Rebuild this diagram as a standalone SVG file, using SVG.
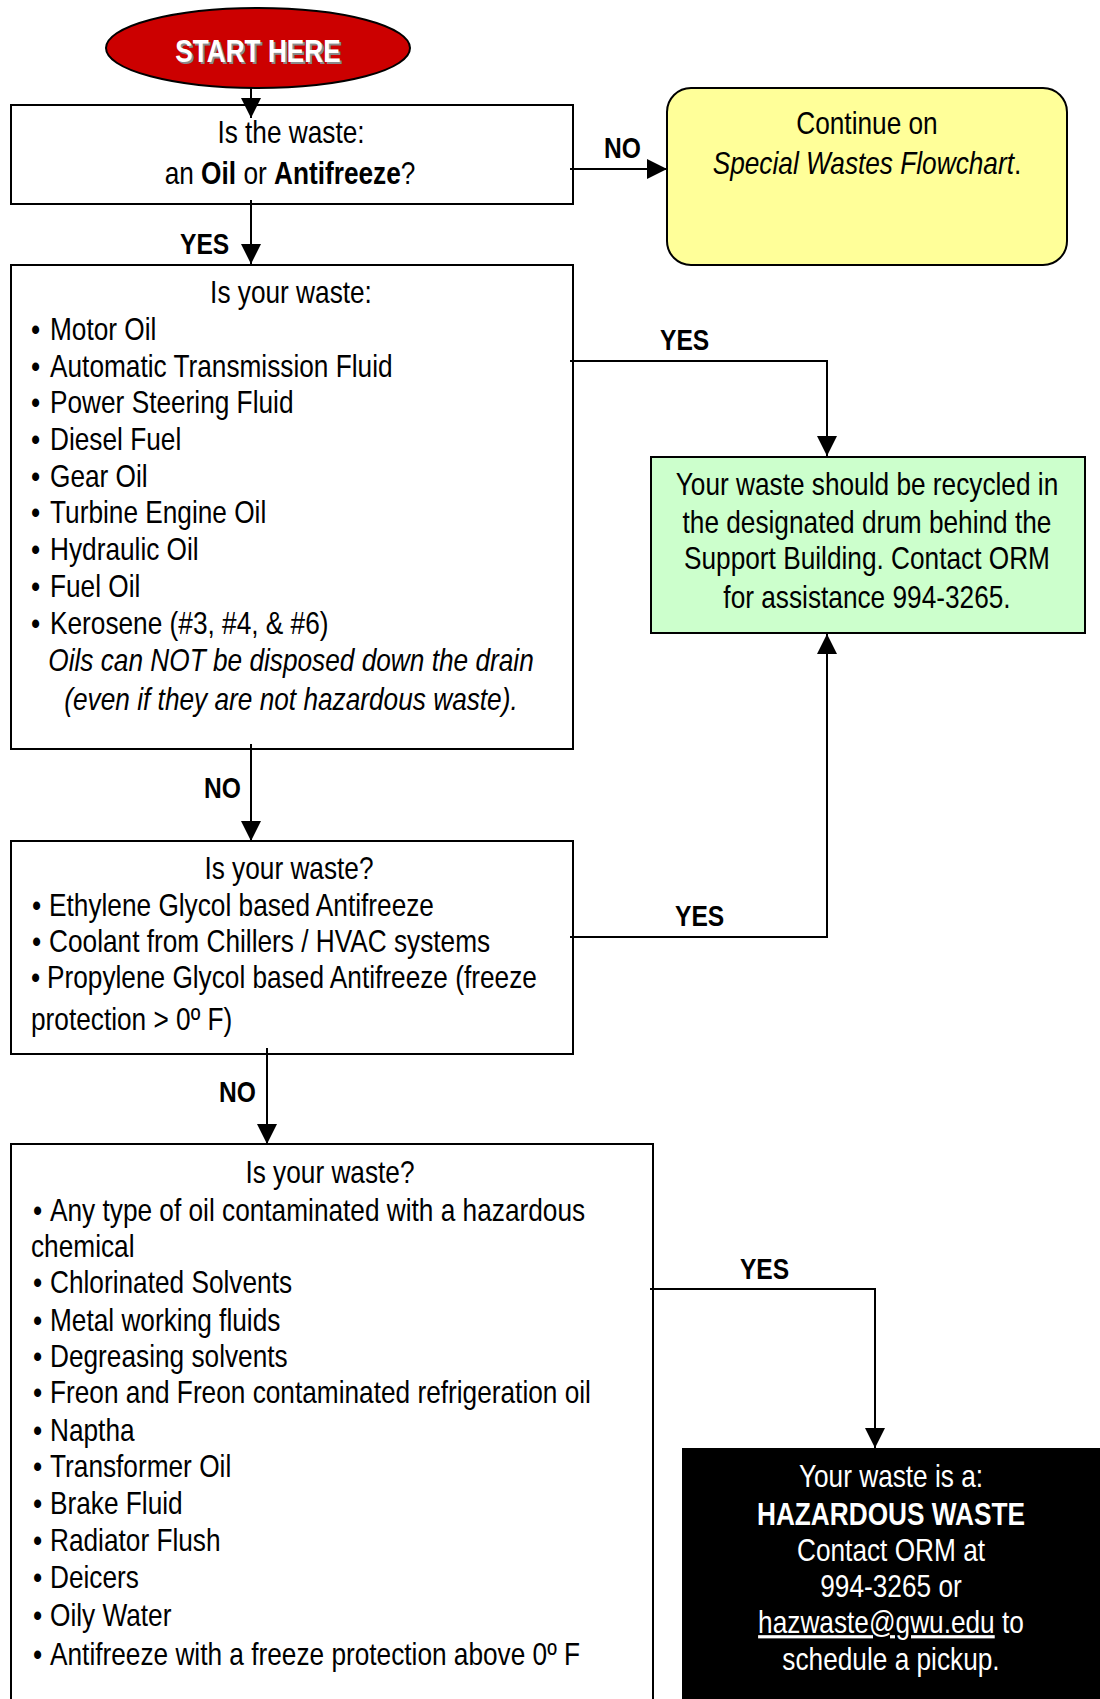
<svg xmlns="http://www.w3.org/2000/svg" width="1100" height="1699" viewBox="0 0 1100 1699">
<defs>
<style>
.t{font-family:"Liberation Sans Narrow","Liberation Sans",Arial,sans-serif;font-size:32px;fill:#000}
.c{text-anchor:middle}
.b{font-weight:bold}
.i{font-style:italic}
.lbl{font-family:"Liberation Sans Narrow","Liberation Sans",Arial,sans-serif;font-size:30px;font-weight:bold;fill:#000}
.box{fill:#fff;stroke:#000;stroke-width:2}
.ln{fill:none;stroke:#000;stroke-width:2}
.w{fill:#fff}
</style>
<marker id="ah" viewBox="0 0 20 20" refX="20" refY="10" markerWidth="20" markerHeight="20" markerUnits="userSpaceOnUse" orient="auto">
<path d="M0,0 L20,10 L0,20 Z" fill="#000"/>
</marker>
</defs>
<rect width="1100" height="1699" fill="#fff"/>

<g id="start">
<ellipse cx="258" cy="48" rx="152" ry="40" fill="#CC0000" stroke="#000" stroke-width="2"/>
<g transform="scale(0.82 1)">
<text x="317.1" y="64" class="t c b" style="fill:#8a8a8a">START HERE</text>
<text x="314.6" y="62" class="t c b w">START HERE</text>
</g>
</g>

<g id="q1">
<rect x="11" y="105" width="562" height="99" class="box"/>
<g transform="scale(0.82 1)">
<text x="354.9" y="143" class="t c">Is the waste:</text>
<text x="353.7" y="184" class="t c">an <tspan class="b">Oil</tspan> or <tspan class="b">Antifreeze</tspan>?</text>
</g>
</g>

<g id="special">
<rect x="667" y="88" width="400" height="177" rx="24" ry="24" fill="#FFFF99" stroke="#000" stroke-width="2"/>
<g transform="scale(0.82 1)">
<text x="1057.3" y="134" class="t c">Continue on</text>
<text x="1057.3" y="174" class="t c"><tspan class="i">Special Wastes Flowchart</tspan>.</text>
</g>
</g>

<g id="q2">
<rect x="11" y="265" width="562" height="484" class="box"/>
<g transform="scale(0.82 1)">
<text x="354.9" y="303" class="t c">Is your waste:</text>
<text class="t" y="340"><tspan x="37.8">•</tspan><tspan x="61">Motor Oil</tspan></text>
<text class="t" y="377"><tspan x="37.8">•</tspan><tspan x="61">Automatic Transmission Fluid</tspan></text>
<text class="t" y="413"><tspan x="37.8">•</tspan><tspan x="61">Power Steering Fluid</tspan></text>
<text class="t" y="450"><tspan x="37.8">•</tspan><tspan x="61">Diesel Fuel</tspan></text>
<text class="t" y="487"><tspan x="37.8">•</tspan><tspan x="61">Gear Oil</tspan></text>
<text class="t" y="523"><tspan x="37.8">•</tspan><tspan x="61">Turbine Engine Oil</tspan></text>
<text class="t" y="560"><tspan x="37.8">•</tspan><tspan x="61">Hydraulic Oil</tspan></text>
<text class="t" y="597"><tspan x="37.8">•</tspan><tspan x="61">Fuel Oil</tspan></text>
<text class="t" y="634"><tspan x="37.8">•</tspan><tspan x="61">Kerosene (#3, #4, &amp; #6)</tspan></text>
<text x="354.9" y="671" class="t c i">Oils can NOT be disposed down the drain</text>
<text x="354.9" y="710" class="t c i">(even if they are not hazardous waste).</text>
</g>
</g>

<g id="recycle">
<rect x="651" y="457" width="434" height="176" fill="#CCFFCC" stroke="#000" stroke-width="2"/>
<g transform="scale(0.82 1)">
<text x="1057.3" y="495" class="t c">Your waste should be recycled in</text>
<text x="1057.3" y="533" class="t c">the designated drum behind the</text>
<text x="1057.3" y="569" class="t c">Support Building. Contact ORM</text>
<text x="1057.3" y="608" class="t c">for assistance 994-3265.</text>
</g>
</g>

<g id="q3">
<rect x="11" y="841" width="562" height="213" class="box"/>
<g transform="scale(0.82 1)">
<text x="352.4" y="879" class="t c">Is your waste?</text>
<text class="t" y="916"><tspan x="39">•</tspan><tspan x="59.8">Ethylene Glycol based Antifreeze</tspan></text>
<text class="t" y="952"><tspan x="39">•</tspan><tspan x="59.8">Coolant from Chillers / HVAC systems</tspan></text>
<text class="t" y="988"><tspan x="37.8">•</tspan><tspan x="57.3">Propylene Glycol based Antifreeze (freeze</tspan></text>
<text class="t" y="1030" x="37.8">protection &gt; 0º F)</text>
</g>
</g>

<g id="q4">
<rect x="11" y="1144" width="642" height="580" class="box"/>
<g transform="scale(0.82 1)">
<text x="402.4" y="1183" class="t c">Is your waste?</text>
<text class="t" y="1221"><tspan x="40.2">•</tspan><tspan x="61">Any type of oil contaminated with a hazardous</tspan></text>
<text class="t" y="1257" x="37.8">chemical</text>
<text class="t" y="1293"><tspan x="40.2">•</tspan><tspan x="61">Chlorinated Solvents</tspan></text>
<text class="t" y="1331"><tspan x="40.2">•</tspan><tspan x="61">Metal working fluids</tspan></text>
<text class="t" y="1367"><tspan x="40.2">•</tspan><tspan x="61">Degreasing solvents</tspan></text>
<text class="t" y="1403"><tspan x="40.2">•</tspan><tspan x="61">Freon and Freon contaminated refrigeration oil</tspan></text>
<text class="t" y="1441"><tspan x="40.2">•</tspan><tspan x="61">Naptha</tspan></text>
<text class="t" y="1477"><tspan x="40.2">•</tspan><tspan x="61">Transformer Oil</tspan></text>
<text class="t" y="1514"><tspan x="40.2">•</tspan><tspan x="61">Brake Fluid</tspan></text>
<text class="t" y="1551"><tspan x="40.2">•</tspan><tspan x="61">Radiator Flush</tspan></text>
<text class="t" y="1588"><tspan x="40.2">•</tspan><tspan x="61">Deicers</tspan></text>
<text class="t" y="1626"><tspan x="40.2">•</tspan><tspan x="61">Oily Water</tspan></text>
<text class="t" y="1665"><tspan x="40.2">•</tspan><tspan x="61">Antifreeze with a freeze protection above 0º F</tspan></text>
</g>
</g>

<g id="hazardous">
<rect x="682" y="1448" width="430" height="270" fill="#000"/>
<g transform="scale(0.82 1)">
<text x="1086.6" y="1487" class="t c w">Your waste is a:</text>
<text x="1086.6" y="1525" class="t c b w">HAZARDOUS WASTE</text>
<text x="1086.6" y="1561" class="t c w">Contact ORM at</text>
<text x="1086.6" y="1597" class="t c w">994-3265 or</text>
<text x="1086.6" y="1633" class="t c w"><tspan text-decoration="underline">hazwaste@gwu.edu</tspan> to</text>
<text x="1086.6" y="1670" class="t c w">schedule a pickup.</text>
</g>
</g>

<g id="connectors">
<path d="M251,88 L251,118" class="ln" marker-end="url(#ah)"/>
<path d="M570,169 L667,169" class="ln" marker-end="url(#ah)"/>
<path d="M251,200 L251,264" class="ln" marker-end="url(#ah)"/>
<path d="M570,361 L827,361 L827,456" class="ln" marker-end="url(#ah)"/>
<path d="M251,744 L251,841" class="ln" marker-end="url(#ah)"/>
<path d="M570,937 L827,937 L827,634" class="ln" marker-end="url(#ah)"/>
<path d="M267,1048 L267,1144" class="ln" marker-end="url(#ah)"/>
<path d="M650,1289 L875,1289 L875,1448" class="ln" marker-end="url(#ah)"/>
<g transform="scale(0.82 1)">
<text x="736.6" y="158" class="lbl">NO</text>
<text x="219.5" y="254" class="lbl">YES</text>
<text x="804.9" y="350" class="lbl">YES</text>
<text x="248.8" y="798" class="lbl">NO</text>
<text x="823.2" y="926" class="lbl">YES</text>
<text x="267.1" y="1102" class="lbl">NO</text>
<text x="902.4" y="1279" class="lbl">YES</text>
</g>
</g>
</svg>
